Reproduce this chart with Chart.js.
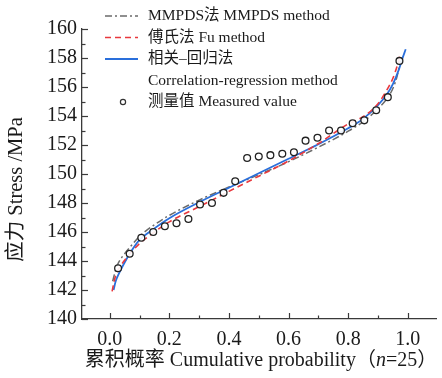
<!DOCTYPE html>
<html><head><meta charset="utf-8">
<script src="https://cdn.jsdelivr.net/npm/chart.js@4/dist/chart.umd.min.js"></script>
<style>html,body{margin:0;padding:0;background:#fff;}#wrap{width:442px;height:378px;position:relative;}</style>
</head><body><div id="wrap"><canvas id="c" width="442" height="378"></canvas></div>
<script>
// ---- data ----
const xTickValues = [0.0, 0.2, 0.4, 0.6, 0.8, 1.0];
const xMinorValues = [0.1, 0.3, 0.5, 0.7, 0.9];
const yTickValues = [140, 142, 144, 146, 148, 150, 152, 154, 156, 158, 160];
const yMinorValues = [141, 143, 145, 147, 149, 151, 153, 155, 157, 159];

const measuredP = [0.028,0.067,0.106,0.146,0.185,0.224,0.264,0.303,0.343,0.382,0.421,0.461,0.500,0.539,0.579,0.618,0.657,0.697,0.736,0.776,0.815,0.854,0.894,0.933,0.972];
const measuredStress = [143.5,144.5,145.6,146.0,146.4,146.6,146.9,147.9,148.0,148.7,149.5,151.1,151.2,151.3,151.4,151.5,152.3,152.5,153.0,153.0,153.5,153.7,154.4,155.3,157.8];

const mmpdsP = [0.01,0.02,0.03,0.05,0.07,0.1,0.15,0.2,0.3,0.4,0.5,0.6,0.7,0.8,0.85,0.9,0.93,0.95,0.965,0.975];
const mmpdsStress = [142.6,143.4,143.9,144.5,145.0,145.7,146.5,147.15,148.2,149.1,149.95,150.85,151.85,152.95,153.6,154.5,155.2,155.9,156.8,157.8];

const fuP = [0.008,0.015,0.02,0.03,0.05,0.07,0.1,0.15,0.2,0.3,0.4,0.5,0.6,0.7,0.8,0.85,0.9,0.93,0.95,0.965,0.975];
const fuStress = [141.9,142.6,143.0,143.45,144.05,144.55,145.2,146.0,146.7,147.75,148.8,149.85,150.9,152.1,153.45,153.95,154.85,155.8,156.6,157.5,158.3];

const corrP = [0.013,0.02,0.03,0.05,0.07,0.1,0.15,0.2,0.3,0.4,0.5,0.6,0.7,0.8,0.85,0.9,0.93,0.95,0.97,0.98,0.993];
const corrStress = [142.0,142.6,143.1,143.9,144.6,145.45,146.25,146.95,148.05,149.05,150.05,151.05,152.05,153.15,153.8,154.75,155.5,156.2,157.2,157.85,158.6];

const legendLabels = ['MMPDS法 MMPDS method', '傅氏法 Fu method', '相关–回归法', 'Correlation-regression method', '测量值 Measured value'];

// ---- styles ----
const FONT = "'Liberation Serif', 'Times New Roman', 'Noto Sans CJK SC', serif";
const GRAY = '#6b6b6b', RED = '#e8383d', BLUE = '#2a6fdb', AXIS = '#3a3a3a', TXT = '#1a1a1a';

const pairs = (xs, ys) => xs.map((x, i) => ({x: x, y: ys[i]}));

const overlay = {
  id: 'overlay',
  afterDraw(chart) {
    const c = chart.ctx, xs = chart.scales.x, ys = chart.scales.y;
    const a = chart.chartArea;
    c.save();
    // inward ticks
    c.strokeStyle = AXIS; c.lineWidth = 1.2;
    const tick = (v, len, horiz) => {
      c.beginPath();
      if (horiz) { const p = Math.round(xs.getPixelForValue(v)) + 0.5; c.moveTo(p, a.bottom); c.lineTo(p, a.bottom - len); }
      else { const p = Math.round(ys.getPixelForValue(v)) + 0.5; c.moveTo(a.left, p); c.lineTo(a.left + len, p); }
      c.stroke();
    };
    xTickValues.forEach(v => tick(v, 6, true));
    xMinorValues.forEach(v => tick(v, 3.5, true));
    yTickValues.forEach(v => tick(v, 6, false));
    yMinorValues.forEach(v => tick(v, 3.5, false));

    // axis titles
    c.fillStyle = TXT; c.textBaseline = 'middle';
    const f = '20px ' + FONT, fi = 'italic 20px ' + FONT;
    const parts = [['累积概率 Cumulative probability（', f], ['n', fi], ['=25）', f]];
    let w = 0; parts.forEach(p => { c.font = p[1]; w += c.measureText(p[0]).width; });
    let x0 = 261 - w / 2; c.textAlign = 'left';
    parts.forEach(p => { c.font = p[1]; c.fillText(p[0], x0, 361); x0 += c.measureText(p[0]).width; });

    c.save(); c.translate(17, 189.5); c.rotate(-Math.PI / 2);
    c.font = '20.5px ' + FONT; c.textAlign = 'center'; c.fillText('应力 Stress /MPa', 0, 0); c.restore();

    // legend
    const rows = [16, 37.5, 59, 80.5, 102];
    const lx0 = 105, lx1 = 138, tx = 148;
    c.lineWidth = 1.6;
    c.strokeStyle = GRAY; c.setLineDash([7, 3, 2, 3]); c.beginPath(); c.moveTo(lx0, rows[0]); c.lineTo(lx1, rows[0]); c.stroke();
    c.strokeStyle = RED; c.setLineDash([6, 4]); c.beginPath(); c.moveTo(lx0, rows[1]); c.lineTo(lx1, rows[1]); c.stroke();
    c.strokeStyle = BLUE; c.lineWidth = 1.8; c.setLineDash([]); c.beginPath(); c.moveTo(lx0, rows[2]); c.lineTo(lx1, rows[2]); c.stroke();
    c.strokeStyle = '#333'; c.lineWidth = 1.2; c.beginPath(); c.arc(123, rows[4], 2.6, 0, Math.PI * 2); c.stroke();
    c.font = '15.5px ' + FONT; c.textAlign = 'left'; c.fillStyle = TXT;
    legendLabels.forEach((t, i) => c.fillText(t, tx, rows[i]));
    c.restore();
  }
};

new Chart(document.getElementById('c'), {
  type: 'scatter',
  data: {
    datasets: [
      {label: 'MMPDS', type: 'line', data: pairs(mmpdsP, mmpdsStress), borderColor: GRAY, borderWidth: 1.5, borderDash: [7, 3, 2, 3], pointRadius: 0, cubicInterpolationMode: 'monotone', fill: false, order: 3},
      {label: 'Fu', type: 'line', data: pairs(fuP, fuStress), borderColor: RED, borderWidth: 1.6, borderDash: [6, 4], pointRadius: 0, cubicInterpolationMode: 'monotone', fill: false, order: 1},
      {label: 'Corr', type: 'line', data: pairs(corrP, corrStress), borderColor: BLUE, borderWidth: 1.8, pointRadius: 0, cubicInterpolationMode: 'monotone', fill: false, order: 2},
      {label: 'Measured', data: pairs(measuredP, measuredStress), pointRadius: 3.4, pointBorderWidth: 1.3, pointBackgroundColor: 'rgba(255,255,255,0.9)', pointBorderColor: '#222', order: 0}
    ]
  },
  options: {
    responsive: false, animation: false, devicePixelRatio: 1,
    layout: {padding: {top: 29, right: 0, left: 0, bottom: 0}},
    plugins: {legend: {display: false}, tooltip: {enabled: false}},
    scales: {
      x: {
        type: 'linear', min: -0.093, max: 1.097,
        afterBuildTicks: s => { s.ticks = xTickValues.map(v => ({value: v})); },
        afterFit: s => { s.height = 59; },
        ticks: {callback: v => Number(v).toFixed(1), font: {family: FONT, size: 20}, color: TXT, padding: 9, maxRotation: 0, autoSkip: false},
        grid: {display: false, drawTicks: false},
        border: {display: true, color: AXIS, width: 1.3}
      },
      y: {
        min: 140, max: 160,
        afterBuildTicks: s => { s.ticks = yTickValues.map(v => ({value: v})); },
        afterFit: s => { s.width = 82; },
        ticks: {callback: v => String(v), font: {family: FONT, size: 20}, color: TXT, padding: 5, autoSkip: false},
        grid: {display: false, drawTicks: false},
        border: {display: true, color: AXIS, width: 1.3}
      }
    }
  },
  plugins: [overlay]
});
</script></body></html>
